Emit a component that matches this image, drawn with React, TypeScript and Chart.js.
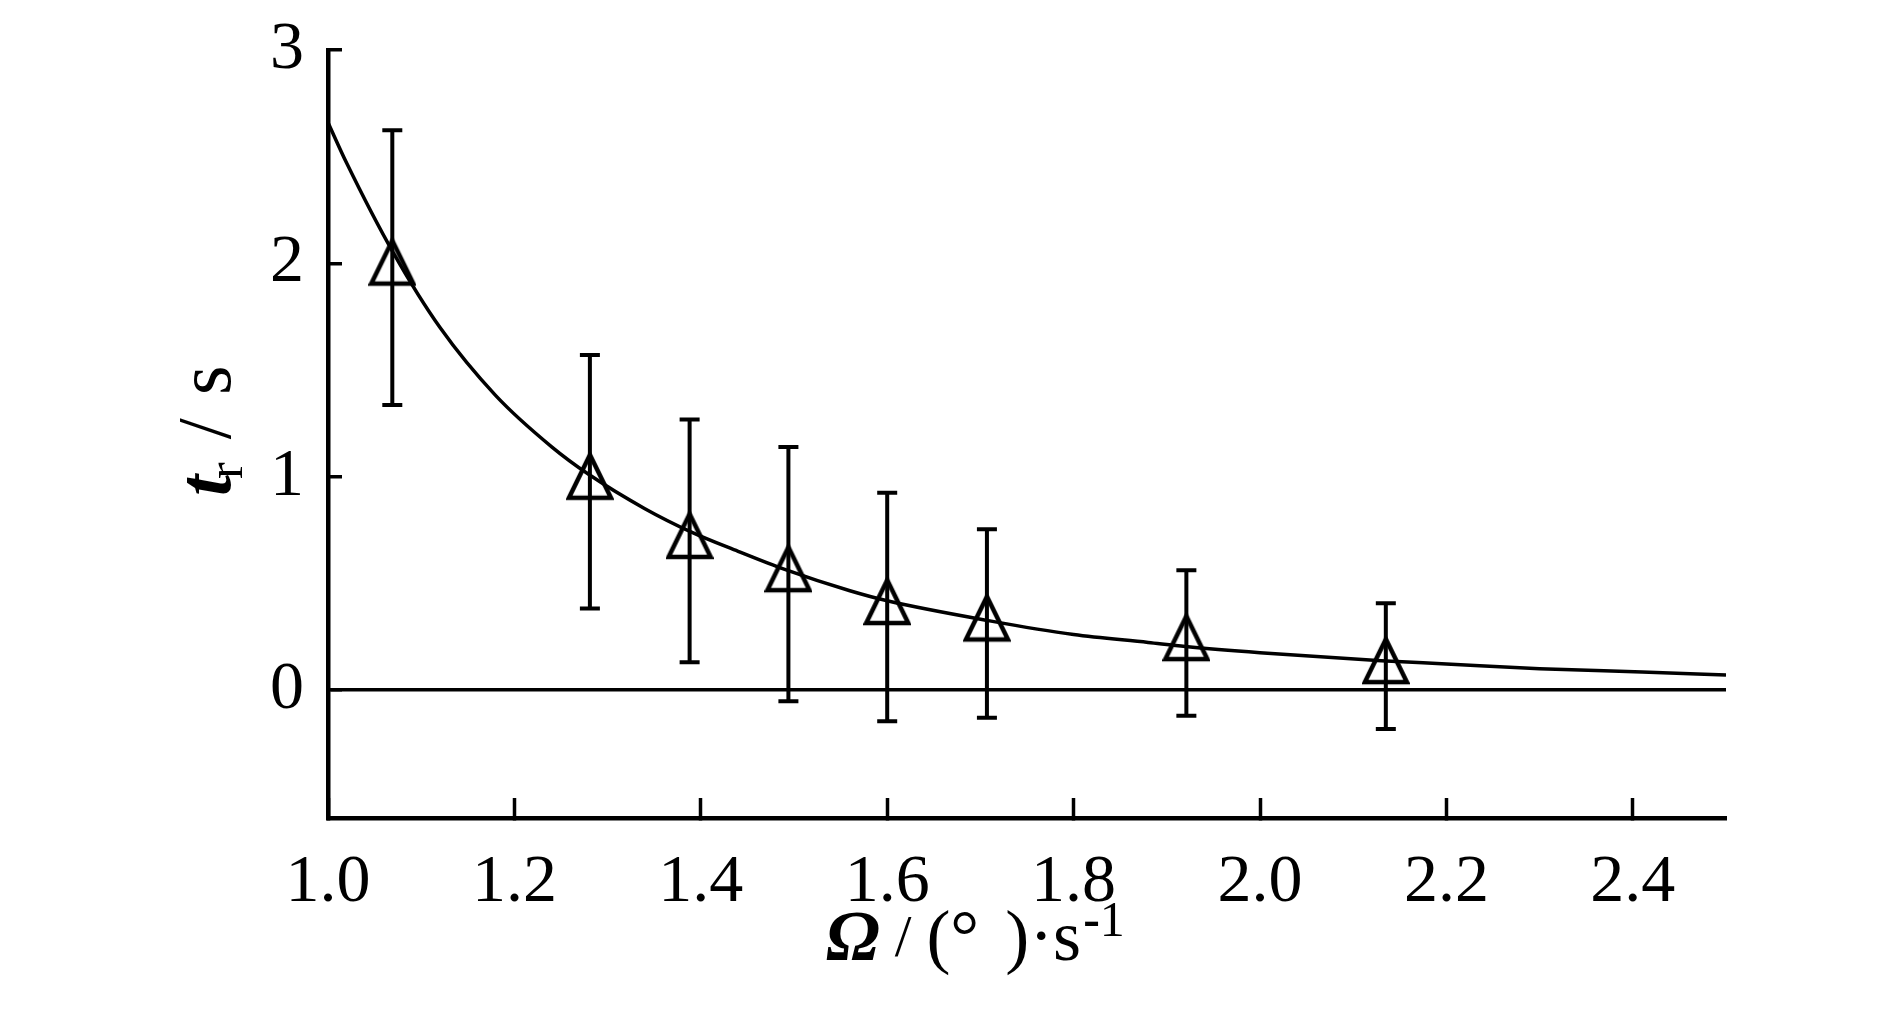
import { useEffect, useRef } from 'react';
import { Chart, registerables, type Plugin } from 'chart.js';

Chart.register(...registerables);

// measured points: rotation rate (°/s) vs response time (s)
const omega = [1.069, 1.281, 1.388, 1.494, 1.6, 1.707, 1.921, 2.135];
const tMean = [1.98, 0.976, 0.699, 0.543, 0.389, 0.312, 0.22, 0.112];
const tErr = [0.644, 0.594, 0.569, 0.596, 0.536, 0.442, 0.341, 0.295];

// fitted curve
const fitOmega = [
  1.0, 1.02, 1.07, 1.12, 1.18, 1.24, 1.28, 1.34, 1.39, 1.44, 1.49, 1.56,
  1.6, 1.71, 1.8, 1.88, 1.92, 2.0, 2.13, 2.2, 2.3, 2.41, 2.5,
];
const fitT = [
  2.66, 2.47, 2.05, 1.7, 1.38, 1.14, 1.01, 0.85, 0.74, 0.65, 0.565, 0.465,
  0.418, 0.324, 0.26, 0.223, 0.204, 0.175, 0.137, 0.122, 0.1, 0.084, 0.07,
];

const xTicks = [1.0, 1.2, 1.4, 1.6, 1.8, 2.0, 2.2, 2.4];
const yTicks = [0, 1, 2, 3];

const SERIF = '"Liberation Serif", "Times New Roman", serif';

type Run = { text: string; font: string; dy?: number; dx?: number };

function drawRuns(ctx: CanvasRenderingContext2D, runs: Run[], x: number, y: number) {
  let cx = x;
  for (const r of runs) {
    ctx.font = r.font;
    cx += r.dx ?? 0;
    ctx.fillText(r.text, cx, y + (r.dy ?? 0));
    cx += ctx.measureText(r.text).width;
  }
}

// open triangle marker, slightly raised above the image centre like the original
function makeTriangle(): HTMLCanvasElement {
  const c = document.createElement('canvas');
  c.width = 48;
  c.height = 62;
  const g = c.getContext('2d');
  if (g) {
    g.strokeStyle = '#000';
    g.lineWidth = 4.5;
    g.lineJoin = 'miter';
    g.beginPath();
    g.moveTo(24, 4);
    g.lineTo(45, 47);
    g.lineTo(3, 47);
    g.closePath();
    g.stroke();
  }
  return c;
}

const errorBars: Plugin<'scatter'> = {
  id: 'errorBars',
  afterDatasetsDraw(chart) {
    const { ctx } = chart;
    const xs = chart.scales.x;
    const ys = chart.scales.y;
    ctx.save();
    ctx.strokeStyle = '#000';
    ctx.lineWidth = 4;
    omega.forEach((o, i) => {
      const px = xs.getPixelForValue(o);
      const top = ys.getPixelForValue(tMean[i] + tErr[i]);
      const bot = ys.getPixelForValue(tMean[i] - tErr[i]);
      ctx.beginPath();
      ctx.moveTo(px, top);
      ctx.lineTo(px, bot);
      ctx.moveTo(px - 10, top);
      ctx.lineTo(px + 10, top);
      ctx.moveTo(px - 10, bot);
      ctx.lineTo(px + 10, bot);
      ctx.stroke();
    });
    ctx.restore();
  },
};

const axisTitles: Plugin<'scatter'> = {
  id: 'axisTitles',
  afterDraw(chart) {
    const { ctx, chartArea } = chart;
    ctx.save();
    ctx.fillStyle = '#000';
    ctx.textBaseline = 'alphabetic';
    ctx.textAlign = 'left';

    // x title: Ω / (°  )·s-1
    drawRuns(
      ctx,
      [
        { text: 'Ω', font: `italic bold 72px ${SERIF}` },
        { text: ' ', font: `60px ${SERIF}` },
        { text: '/', font: `60px ${SERIF}`, dy: -4 },
        { text: ' ', font: `60px ${SERIF}` },
        { text: '(', font: `72px ${SERIF}` },
        { text: '°', font: `72px ${SERIF}` },
        { text: '  ', font: `52px ${SERIF}` },
        { text: ')', font: `72px ${SERIF}` },
        { text: '·', font: `72px ${SERIF}` },
        { text: 's', font: `72px ${SERIF}` },
        { text: '-', font: `bold 50px ${SERIF}`, dy: -24, dx: 2 },
        { text: '1', font: `50px ${SERIF}`, dy: -24 },
      ],
      chartArea.left + 498,
      chartArea.bottom + 142,
    );

    // y title: t_r / s, rotated
    ctx.translate(chartArea.left - 98, (chartArea.top + chartArea.bottom) / 2 + 62);
    ctx.rotate(-Math.PI / 2);
    drawRuns(
      ctx,
      [
        { text: 't', font: `italic bold 76px ${SERIF}` },
        { text: 'r', font: `50px ${SERIF}`, dy: 12, dx: -4 },
        { text: ' / ', font: `76px ${SERIF}`, dx: 4 },
        { text: 's', font: `76px ${SERIF}`, dx: 4 },
      ],
      0,
      0,
    );
    ctx.restore();
  },
};

export default function App() {
  const canvasRef = useRef<HTMLCanvasElement>(null);
  const chartRef = useRef<Chart<'scatter'> | null>(null);

  useEffect(() => {
    document.body.style.margin = '0';
    if (!canvasRef.current) return;
    if (chartRef.current) chartRef.current.destroy();

    const marker = makeTriangle();

    chartRef.current = new Chart(canvasRef.current, {
      type: 'scatter',
      data: {
        datasets: [
          {
            label: 'fit',
            data: fitOmega.map((x, i) => ({ x, y: fitT[i] })),
            showLine: true,
            borderColor: '#000',
            borderWidth: 3.5,
            pointRadius: 0,
            cubicInterpolationMode: 'monotone',
          },
          {
            label: 'measured',
            data: omega.map((x, i) => ({ x, y: tMean[i] })),
            pointStyle: marker,
            pointRadius: 24,
          },
        ],
      },
      options: {
        animation: false,
        responsive: true,
        maintainAspectRatio: false,
        layout: { padding: { top: 50, right: 164, bottom: 0, left: 0 } },
        plugins: {
          legend: { display: false },
          tooltip: { enabled: false },
        },
        scales: {
          x: {
            type: 'linear',
            min: 1.0,
            max: 2.5,
            afterBuildTicks: (scale) => {
              scale.ticks = xTicks.map((value) => ({ value }));
            },
            afterFit: (scale) => {
              scale.height = 198;
              scale.paddingLeft = 0;
              scale.paddingRight = 0;
            },
            ticks: {
              color: '#000',
              font: { family: SERIF, size: 68 },
              padding: 44,
              maxRotation: 0,
              callback: (v) => Number(v).toFixed(1),
            },
            grid: {
              drawOnChartArea: false,
              tickLength: -20,
              tickWidth: 3.5,
              tickColor: '#000',
            },
            border: { color: '#000', width: 4.5 },
          },
          y: {
            type: 'linear',
            min: -0.6,
            max: 3,
            afterBuildTicks: (scale) => {
              scale.ticks = yTicks.map((value) => ({ value }));
            },
            afterFit: (scale) => {
              scale.width = 328;
              scale.paddingTop = 0;
              scale.paddingBottom = 0;
            },
            ticks: {
              color: '#000',
              font: { family: SERIF, size: 68 },
              padding: 38,
              callback: (v) => String(v),
            },
            grid: {
              color: (c) => (c.tick && c.tick.value === 0 ? '#000' : 'rgba(0,0,0,0)'),
              lineWidth: 3.5,
              tickLength: -14,
              tickWidth: 3.5,
              tickColor: '#000',
            },
            border: { color: '#000', width: 4.5 },
          },
        },
      },
      plugins: [errorBars, axisTitles],
    });

    return () => {
      if (chartRef.current) {
        chartRef.current.destroy();
        chartRef.current = null;
      }
    };
  }, []);

  return (
    <div style={{ width: 1890, height: 1016, background: '#fff', overflow: 'hidden' }}>
      <canvas ref={canvasRef} />
    </div>
  );
}
